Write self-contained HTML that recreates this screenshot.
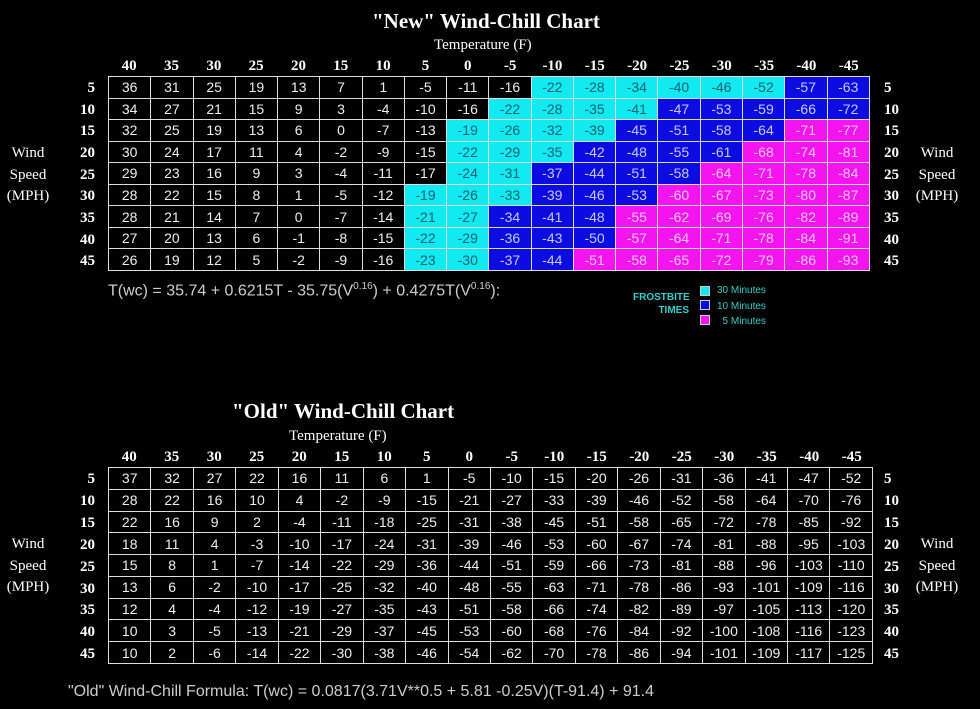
<!DOCTYPE html>
<html><head><meta charset="utf-8"><style>
body{margin:0;background:#000;width:980px;height:709px;overflow:hidden;position:relative;font-family:"Liberation Serif",serif;color:#fff}
.a{position:absolute;white-space:nowrap}
.t{font-weight:bold;font-size:21px}
.tf{font-size:15px}
table{position:absolute;border-collapse:collapse;table-layout:fixed}
td{border:1.5px solid #ddd;text-align:center;font-family:"Liberation Sans",sans-serif;font-size:14px;color:#eee;padding:0;overflow:hidden}
.c{background:#10eaf0;color:#1a6070}.b{background:#0c0ce0;color:#c8c8ff}.m{background:#f414f0;color:#ffc8ff}
.hd{position:absolute;font-weight:bold;font-size:15px;display:flex}
.hd span{text-align:center;display:block}
.rl{position:absolute;font-weight:bold;font-size:15px;text-align:right;width:40px}
.rr{position:absolute;font-weight:bold;font-size:15px}
.ws{position:absolute;font-size:15px;text-align:center;width:50px}
.f{position:absolute;font-family:"Liberation Sans",sans-serif;font-size:16px;color:#ccc;white-space:nowrap}
.f sup{font-size:10px}
.lg{position:absolute;font-family:"Liberation Sans",sans-serif;font-size:10px;color:#3cc;white-space:nowrap}
.sq{position:absolute;width:8px;height:8px;border:1px solid #ccc}
</style></head><body>
<div class="a t" style="left:372px;top:9px">"New" Wind-Chill Chart</div>
<div class="a tf" style="left:434px;top:37px">Temperature (F)</div>
<div class="hd" style="left:108px;top:58px;width:762px"><span style="width:42.33px">40</span><span style="width:42.33px">35</span><span style="width:42.33px">30</span><span style="width:42.33px">25</span><span style="width:42.33px">20</span><span style="width:42.33px">15</span><span style="width:42.33px">10</span><span style="width:42.33px">5</span><span style="width:42.33px">0</span><span style="width:42.33px">-5</span><span style="width:42.33px">-10</span><span style="width:42.33px">-15</span><span style="width:42.33px">-20</span><span style="width:42.33px">-25</span><span style="width:42.33px">-30</span><span style="width:42.33px">-35</span><span style="width:42.33px">-40</span><span style="width:42.33px">-45</span></div>
<div class="rl" style="left:55px;top:78px;line-height:21.67px">5<br>10<br>15<br>20<br>25<br>30<br>35<br>40<br>45</div>
<div class="rr" style="left:884px;top:78px;line-height:21.67px">5<br>10<br>15<br>20<br>25<br>30<br>35<br>40<br>45</div>
<div class="ws" style="left:3px;top:143px;line-height:21.5px">Wind<br>Speed<br>(MPH)</div>
<div class="ws" style="left:912px;top:143px;line-height:21.5px">Wind<br>Speed<br>(MPH)</div>
<table style="left:108px;top:76px;width:762px;height:195px">
<tr><td>36</td><td>31</td><td>25</td><td>19</td><td>13</td><td>7</td><td>1</td><td>-5</td><td>-11</td><td>-16</td><td class="c">-22</td><td class="c">-28</td><td class="c">-34</td><td class="c">-40</td><td class="c">-46</td><td class="c">-52</td><td class="b">-57</td><td class="b">-63</td></tr>
<tr><td>34</td><td>27</td><td>21</td><td>15</td><td>9</td><td>3</td><td>-4</td><td>-10</td><td>-16</td><td class="c">-22</td><td class="c">-28</td><td class="c">-35</td><td class="c">-41</td><td class="b">-47</td><td class="b">-53</td><td class="b">-59</td><td class="b">-66</td><td class="b">-72</td></tr>
<tr><td>32</td><td>25</td><td>19</td><td>13</td><td>6</td><td>0</td><td>-7</td><td>-13</td><td class="c">-19</td><td class="c">-26</td><td class="c">-32</td><td class="c">-39</td><td class="b">-45</td><td class="b">-51</td><td class="b">-58</td><td class="b">-64</td><td class="m">-71</td><td class="m">-77</td></tr>
<tr><td>30</td><td>24</td><td>17</td><td>11</td><td>4</td><td>-2</td><td>-9</td><td>-15</td><td class="c">-22</td><td class="c">-29</td><td class="c">-35</td><td class="b">-42</td><td class="b">-48</td><td class="b">-55</td><td class="b">-61</td><td class="m">-68</td><td class="m">-74</td><td class="m">-81</td></tr>
<tr><td>29</td><td>23</td><td>16</td><td>9</td><td>3</td><td>-4</td><td>-11</td><td>-17</td><td class="c">-24</td><td class="c">-31</td><td class="b">-37</td><td class="b">-44</td><td class="b">-51</td><td class="b">-58</td><td class="m">-64</td><td class="m">-71</td><td class="m">-78</td><td class="m">-84</td></tr>
<tr><td>28</td><td>22</td><td>15</td><td>8</td><td>1</td><td>-5</td><td>-12</td><td class="c">-19</td><td class="c">-26</td><td class="c">-33</td><td class="b">-39</td><td class="b">-46</td><td class="b">-53</td><td class="m">-60</td><td class="m">-67</td><td class="m">-73</td><td class="m">-80</td><td class="m">-87</td></tr>
<tr><td>28</td><td>21</td><td>14</td><td>7</td><td>0</td><td>-7</td><td>-14</td><td class="c">-21</td><td class="c">-27</td><td class="b">-34</td><td class="b">-41</td><td class="b">-48</td><td class="m">-55</td><td class="m">-62</td><td class="m">-69</td><td class="m">-76</td><td class="m">-82</td><td class="m">-89</td></tr>
<tr><td>27</td><td>20</td><td>13</td><td>6</td><td>-1</td><td>-8</td><td>-15</td><td class="c">-22</td><td class="c">-29</td><td class="b">-36</td><td class="b">-43</td><td class="b">-50</td><td class="m">-57</td><td class="m">-64</td><td class="m">-71</td><td class="m">-78</td><td class="m">-84</td><td class="m">-91</td></tr>
<tr><td>26</td><td>19</td><td>12</td><td>5</td><td>-2</td><td>-9</td><td>-16</td><td class="c">-23</td><td class="c">-30</td><td class="b">-37</td><td class="b">-44</td><td class="m">-51</td><td class="m">-58</td><td class="m">-65</td><td class="m">-72</td><td class="m">-79</td><td class="m">-86</td><td class="m">-93</td></tr>
</table>
<div class="f" style="left:108px;top:281px">T(wc) = 35.74 + 0.6215T - 35.75(V<sup>0.16</sup>) + 0.4275T(V<sup>0.16</sup>):</div>
<div class="lg" style="left:633px;top:291px;font-weight:bold;text-align:right;width:56px;line-height:13px">FROSTBITE<br>TIMES</div>
<div class="sq" style="left:700px;top:286px;background:#10eaf0"></div>
<div class="sq" style="left:700px;top:300px;background:#0c0ce0"></div>
<div class="sq" style="left:700px;top:315px;background:#f414f0"></div>
<div class="lg" style="left:717px;top:283px;line-height:15.5px">30 Minutes<br>10 Minutes<br>&nbsp;&nbsp;5 Minutes</div>

<div class="a t" style="left:232px;top:399px">"Old" Wind-Chill Chart</div>
<div class="a tf" style="left:289px;top:428px">Temperature (F)</div>
<div class="hd" style="left:108px;top:449px;width:765px"><span style="width:42.5px">40</span><span style="width:42.5px">35</span><span style="width:42.5px">30</span><span style="width:42.5px">25</span><span style="width:42.5px">20</span><span style="width:42.5px">15</span><span style="width:42.5px">10</span><span style="width:42.5px">5</span><span style="width:42.5px">0</span><span style="width:42.5px">-5</span><span style="width:42.5px">-10</span><span style="width:42.5px">-15</span><span style="width:42.5px">-20</span><span style="width:42.5px">-25</span><span style="width:42.5px">-30</span><span style="width:42.5px">-35</span><span style="width:42.5px">-40</span><span style="width:42.5px">-45</span></div>
<div class="rl" style="left:55px;top:469px;line-height:21.9px">5<br>10<br>15<br>20<br>25<br>30<br>35<br>40<br>45</div>
<div class="rr" style="left:884px;top:469px;line-height:21.9px">5<br>10<br>15<br>20<br>25<br>30<br>35<br>40<br>45</div>
<div class="ws" style="left:3px;top:534px;line-height:21.7px">Wind<br>Speed<br>(MPH)</div>
<div class="ws" style="left:912px;top:534px;line-height:21.7px">Wind<br>Speed<br>(MPH)</div>
<table style="left:108px;top:467px;width:765px;height:197px">
<tr><td>37</td><td>32</td><td>27</td><td>22</td><td>16</td><td>11</td><td>6</td><td>1</td><td>-5</td><td>-10</td><td>-15</td><td>-20</td><td>-26</td><td>-31</td><td>-36</td><td>-41</td><td>-47</td><td>-52</td></tr>
<tr><td>28</td><td>22</td><td>16</td><td>10</td><td>4</td><td>-2</td><td>-9</td><td>-15</td><td>-21</td><td>-27</td><td>-33</td><td>-39</td><td>-46</td><td>-52</td><td>-58</td><td>-64</td><td>-70</td><td>-76</td></tr>
<tr><td>22</td><td>16</td><td>9</td><td>2</td><td>-4</td><td>-11</td><td>-18</td><td>-25</td><td>-31</td><td>-38</td><td>-45</td><td>-51</td><td>-58</td><td>-65</td><td>-72</td><td>-78</td><td>-85</td><td>-92</td></tr>
<tr><td>18</td><td>11</td><td>4</td><td>-3</td><td>-10</td><td>-17</td><td>-24</td><td>-31</td><td>-39</td><td>-46</td><td>-53</td><td>-60</td><td>-67</td><td>-74</td><td>-81</td><td>-88</td><td>-95</td><td>-103</td></tr>
<tr><td>15</td><td>8</td><td>1</td><td>-7</td><td>-14</td><td>-22</td><td>-29</td><td>-36</td><td>-44</td><td>-51</td><td>-59</td><td>-66</td><td>-73</td><td>-81</td><td>-88</td><td>-96</td><td>-103</td><td>-110</td></tr>
<tr><td>13</td><td>6</td><td>-2</td><td>-10</td><td>-17</td><td>-25</td><td>-32</td><td>-40</td><td>-48</td><td>-55</td><td>-63</td><td>-71</td><td>-78</td><td>-86</td><td>-93</td><td>-101</td><td>-109</td><td>-116</td></tr>
<tr><td>12</td><td>4</td><td>-4</td><td>-12</td><td>-19</td><td>-27</td><td>-35</td><td>-43</td><td>-51</td><td>-58</td><td>-66</td><td>-74</td><td>-82</td><td>-89</td><td>-97</td><td>-105</td><td>-113</td><td>-120</td></tr>
<tr><td>10</td><td>3</td><td>-5</td><td>-13</td><td>-21</td><td>-29</td><td>-37</td><td>-45</td><td>-53</td><td>-60</td><td>-68</td><td>-76</td><td>-84</td><td>-92</td><td>-100</td><td>-108</td><td>-116</td><td>-123</td></tr>
<tr><td>10</td><td>2</td><td>-6</td><td>-14</td><td>-22</td><td>-30</td><td>-38</td><td>-46</td><td>-54</td><td>-62</td><td>-70</td><td>-78</td><td>-86</td><td>-94</td><td>-101</td><td>-109</td><td>-117</td><td>-125</td></tr>
</table>
<div class="f" style="left:68px;top:683px">"Old" Wind-Chill Formula: T(wc) = 0.0817(3.71V**0.5 + 5.81 -0.25V)(T-91.4) + 91.4</div>
</body></html>
